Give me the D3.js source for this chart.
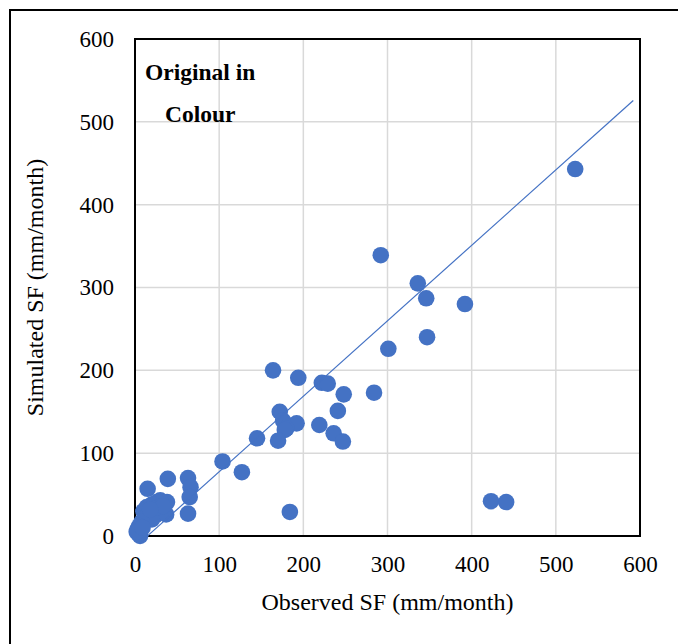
<!DOCTYPE html>
<html>
<head>
<meta charset="utf-8">
<script src="https://cdn.jsdelivr.net/npm/d3@7"></script>
<style>
  html, body { margin: 0; padding: 0; background: #fff; }
  svg { display: block; }
  text { font-family: "Liberation Serif", "Times New Roman", serif; fill: #000; }
</style>
</head>
<body>
<script>
// Observed vs simulated streamflow (mm/month)
const observed = [
  523, 292, 336, 346, 392, 301, 347, 164, 194, 222, 229, 248, 284,
  172, 241, 176, 192, 180, 178, 219, 236, 247, 145, 170, 104, 127,
  184, 423, 441, 63, 66, 65, 63, 39, 15, 38, 30, 26, 20, 14, 10,
  17, 24, 37, 12, 20, 8, 5, 3, 4, 6, 2, 9, 28, 33, 18
];
const simulated = [
  443, 339, 305, 287, 280, 226, 240, 200, 191, 185, 184, 171, 173,
  150, 151, 139, 136, 130, 128, 134, 124, 114, 118, 115, 90, 77,
  29, 42, 41, 70, 59, 47, 27, 69, 57, 41, 43, 41, 38, 35, 30,
  28, 25, 26, 22, 20, 17, 12, 8, 3, 0, 5, 10, 35, 36, 32
];
const tickValues = [0, 100, 200, 300, 400, 500, 600];
// Linear trendline (sim = slope * obs + intercept) over its drawn span
const trendSlope = [0.911];
const trendIntercept = [-13.5];
const trendSpan = [6, 592];

const W = 678, H = 644;
const plot = { left: 135, top: 39, right: 640, bottom: 536 };
const blue = "#4472C4";

const svg = d3.select("body").append("svg").attr("width", W).attr("height", H);

// outer frame
svg.append("rect")
  .attr("x", 10).attr("y", 10).attr("width", 700).attr("height", 680)
  .attr("fill", "none").attr("stroke", "#000").attr("stroke-width", 2);

const x = d3.scaleLinear().domain([0, 600]).range([plot.left, plot.right]);
const y = d3.scaleLinear().domain([0, 600]).range([plot.bottom, plot.top]);

// gridlines
const grid = svg.append("g");
grid.selectAll("line.v").data(tickValues.slice(1)).join("line")
  .attr("x1", d => x(d)).attr("x2", d => x(d))
  .attr("y1", plot.top).attr("y2", plot.bottom)
  .attr("stroke", "#d9d9d9").attr("stroke-width", 1.5);
grid.selectAll("line.h").data(tickValues.slice(1)).join("line")
  .attr("y1", d => y(d)).attr("y2", d => y(d))
  .attr("x1", plot.left).attr("x2", plot.right)
  .attr("stroke", "#d9d9d9").attr("stroke-width", 1.5);

// axes tick labels
const xAxis = d3.axisBottom(x).tickValues(tickValues).tickSize(0).tickPadding(20);
const gx = svg.append("g").attr("transform", `translate(0,${plot.bottom})`).call(xAxis);
gx.select(".domain").remove();
gx.selectAll("text").style("font-size", "23px").style("font-family", "Liberation Serif");

const yAxis = d3.axisLeft(y).tickValues(tickValues).tickSize(0).tickPadding(21);
const gy = svg.append("g").attr("transform", `translate(${plot.left},0)`).call(yAxis);
gy.select(".domain").remove();
gy.selectAll("text").style("font-size", "23px").style("font-family", "Liberation Serif");

// plot box
svg.append("rect")
  .attr("x", plot.left).attr("y", plot.top)
  .attr("width", plot.right - plot.left).attr("height", plot.bottom - plot.top)
  .attr("fill", "none").attr("stroke", "#000").attr("stroke-width", 2);

// points
const pts = observed.map((o, i) => ({ o, s: simulated[i] }));
svg.append("g").selectAll("circle").data(pts).join("circle")
  .attr("cx", d => x(d.o)).attr("cy", d => y(d.s)).attr("r", 8.3)
  .attr("fill", blue);

// trendline
svg.append("line")
  .attr("x1", x(trendSpan[0])).attr("y1", y(trendSlope[0] * trendSpan[0] + trendIntercept[0]))
  .attr("x2", x(trendSpan[1])).attr("y2", y(trendSlope[0] * trendSpan[1] + trendIntercept[0]))
  .attr("stroke", blue).attr("stroke-width", 1.2);

// axis titles
svg.append("text")
  .attr("x", (plot.left + plot.right) / 2).attr("y", 610)
  .attr("text-anchor", "middle").style("font-size", "24px")
  .text("Observed SF (mm/month)");
svg.append("text")
  .attr("transform", `translate(43,${(plot.top + plot.bottom) / 2}) rotate(-90)`)
  .attr("text-anchor", "middle").style("font-size", "24px")
  .text("Simulated SF (mm/month)");

// annotation
svg.append("text").attr("x", 145).attr("y", 80)
  .style("font-size", "23.5px").style("font-weight", "bold").text("Original in");
svg.append("text").attr("x", 165).attr("y", 122)
  .style("font-size", "23.5px").style("font-weight", "bold").text("Colour");
</script>
</body>
</html>
